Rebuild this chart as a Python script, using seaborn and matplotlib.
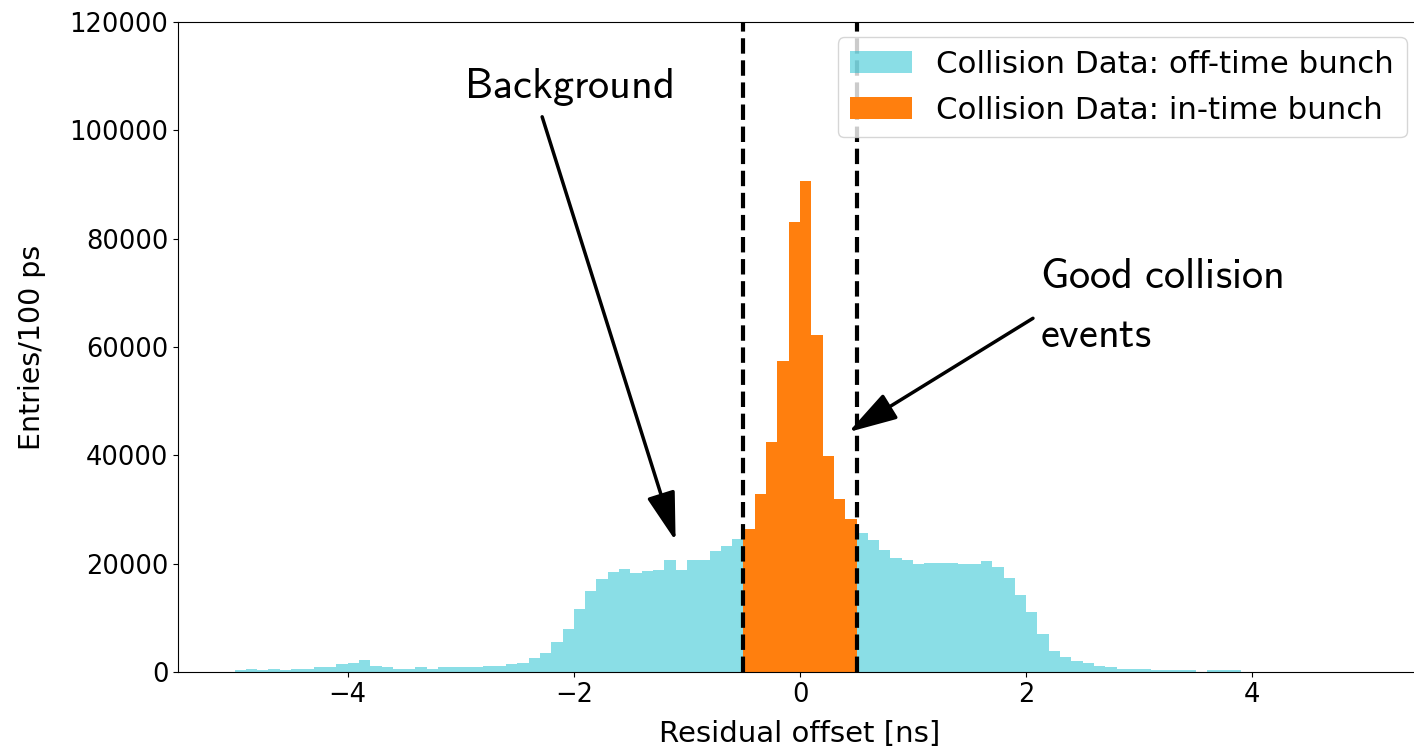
import numpy as np
import pandas as pd
import matplotlib
matplotlib.use("Agg")
import matplotlib.pyplot as plt
import seaborn as sns

# ---------------- data ----------------
bin_width = 0.1
off_start = -5.0
# off-time bunch counts per 100 ps, bins starting at -5.0 ns
off_counts = [
    300, 600, 300, 600, 400, 600, 600, 900, 900, 1500,
    1700, 2300, 1200, 900, 600, 600, 900, 600, 900, 900,
    900, 900, 1100, 1100, 1400, 1700, 2500, 3600, 5500, 8000,
    11700, 15000, 17100, 18500, 19100, 18300, 18600, 18800, 20700, 18800,
    20700, 20700, 22300, 23200, 24600,
    0, 0, 0, 0, 0, 0, 0, 0, 0, 0,
    25700, 24300, 22600, 21000, 20700, 19900, 20200, 20200, 20200, 19900,
    19900, 20500, 19300, 17400, 14300, 11000, 7000, 3900, 2800, 2000,
    1700, 1200, 900, 600, 600, 600, 300, 300, 300, 300,
    0, 300, 300, 300,
]
in_start = -0.5
in_counts = [26400, 32900, 42500, 57400, 83100, 90600, 62200, 39800, 32000, 28200]

off_label = "Collision Data: off-time bunch"
in_label = "Collision Data: in-time bunch"
cut_lines = [-0.5, 0.5]
x_ticks = [-4, -2, 0, 2, 4]
y_ticks = [0, 20000, 40000, 60000, 80000, 100000, 120000]

off_edges = [round(off_start + bin_width * i, 3) for i in range(len(off_counts) + 1)]
in_edges = [round(in_start + bin_width * i, 3) for i in range(len(in_counts) + 1)]
off_centers = [(a + b) / 2 for a, b in zip(off_edges[:-1], off_edges[1:])]
in_centers = [(a + b) / 2 for a, b in zip(in_edges[:-1], in_edges[1:])]

off_df = pd.DataFrame({"x": off_centers, "w": off_counts})
in_df = pd.DataFrame({"x": in_centers, "w": in_counts})

# ---------------- plot ----------------
plt.rcParams["mathtext.fontset"] = "cm"
fig = plt.figure(figsize=(14.14, 7.47), dpi=100)
# the axes extends slightly past the right edge of the figure (cropped original)
ax = fig.add_axes([178 / 1414, 1 - 672 / 747, (1422 - 178) / 1414, (672 - 22) / 747])

sns.histplot(data=off_df, x="x", weights="w", bins=off_edges, color="tab:cyan",
             alpha=0.5, linewidth=0, ax=ax, label=off_label)
sns.histplot(data=in_df, x="x", weights="w", bins=in_edges, color="tab:orange",
             alpha=1.0, linewidth=0, ax=ax, label=in_label)

for xc in cut_lines:
    ax.axvline(xc, color="black", ls="--", lw=3)

ax.set_xlim(-5.5, 5.5)
ax.set_ylim(0, 120000)
ax.set_xticks(x_ticks)
ax.set_yticks(y_ticks)
ax.tick_params(labelsize=18.5)
ax.set_xlabel("Residual offset [ns]", fontsize=21, labelpad=9)
ax.set_ylabel("Entries/100 ps", fontsize=20.5, labelpad=17)

arrow_kw = dict(arrowstyle="-|>,head_length=1.25,head_width=0.37",
                mutation_scale=24, lw=2.5, color="black", shrinkA=0, shrinkB=0)

ax.text(-2.971, 106000, r"$\mathsf{Background}$", fontsize=30.5, ha="left", va="baseline")
ax.annotate("", xy=(-1.1, 24200), xytext=(-2.28, 102500), arrowprops=arrow_kw)

ax.text(2.126, 70900, r"$\mathsf{Good\ collision}$", fontsize=30.5, ha="left", va="baseline")
ax.text(2.126, 60000, r"$\mathsf{events}$", fontsize=30.5, ha="left", va="baseline")
ax.annotate("", xy=(0.43, 44300), xytext=(2.06, 65300), arrowprops=arrow_kw)

ax.legend(loc="upper right", fontsize=22.2, labelspacing=0.55)

fig.savefig("out.png", dpi=100)
